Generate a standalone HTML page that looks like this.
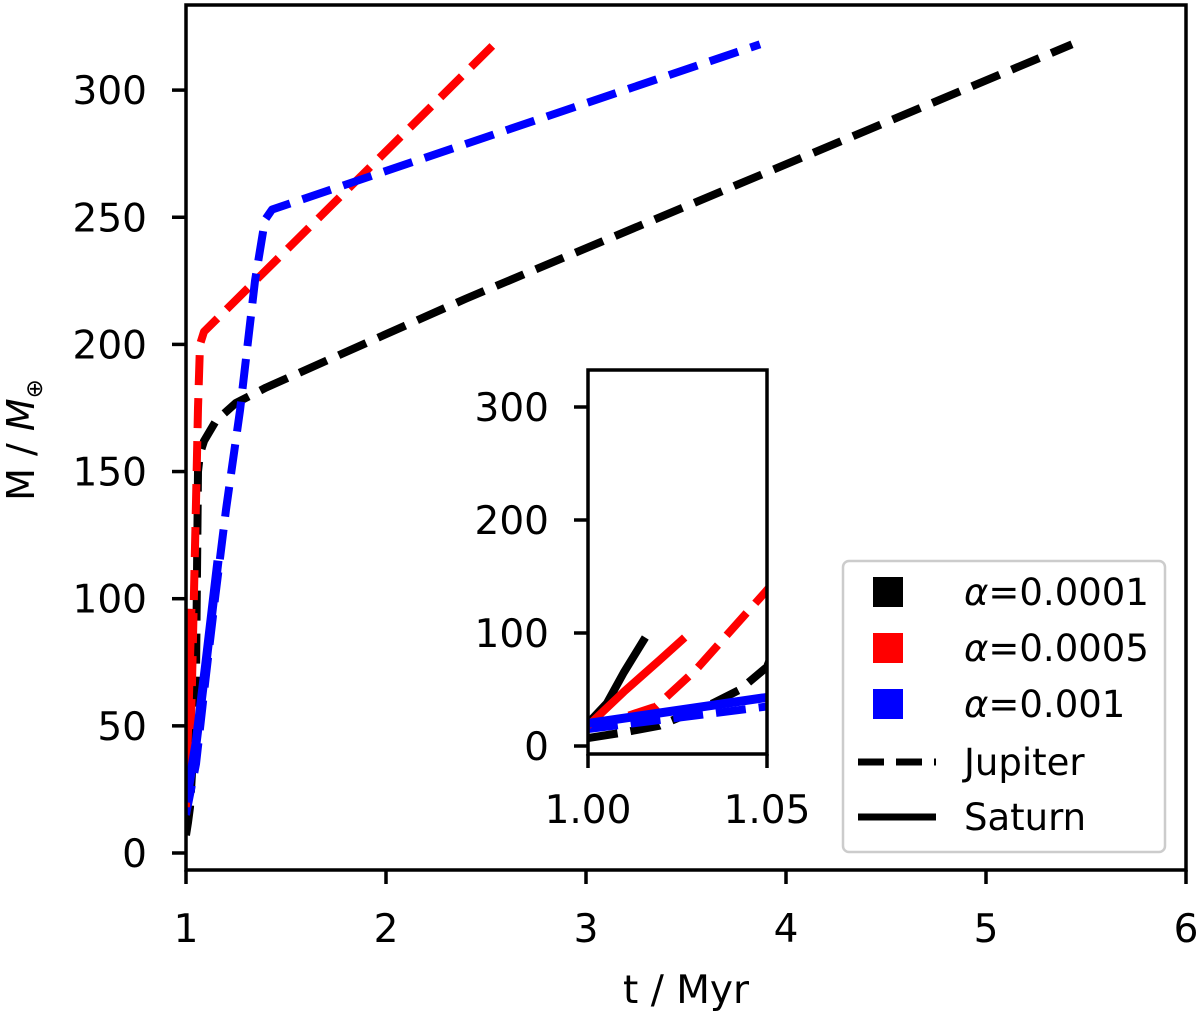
<!DOCTYPE html>
<html><head><meta charset="utf-8"><style>
body{margin:0;background:#fff}
svg{display:block;font-family:"DejaVu Sans","Liberation Sans",sans-serif}
</style></head><body>
<svg id="chart" width="1200" height="1017" viewBox="0 0 1200 1017" xmlns="http://www.w3.org/2000/svg">
<defs>
<clipPath id="mainClip"><rect x="186" y="5" width="1000" height="865"/></clipPath>
<clipPath id="insetClip"><rect x="588" y="370" width="179" height="384"/></clipPath>
</defs>
<g id="main"></g>
<g id="inset"></g>
<g id="legend"></g>
</svg>
<script>
const xTicks=[1,2,3,4,5,6];
const yTicks=[0,50,100,150,200,250,300];
const insetXTicks=[1.00,1.05];
const insetXTickLabels=["1.00","1.05"];
const insetYTicks=[0,100,200,300];
// series: times (Myr) and masses (M_earth)
const jupA1_t=[1.0,1.01,1.02,1.035,1.0425,1.05,1.055,1.06,1.07,1.09,1.15,1.25,1.4,2.4,5.43];
const jupA1_m=[7,12,18,38,50,70,110,150,157,162,170,177,183,218,318];
const jupA5_t=[1.0,1.019,1.03,1.05,1.06,1.07,1.09,2.54];
const jupA5_m=[15,35,67,138,175,200,205,318];
const jupA10_t=[1.0,1.05,1.1,1.145,1.2,1.27,1.345,1.395,1.43,3.87];
const jupA10_m=[15,35,70,100,135,174,225,249,253,318];
const satA1_t=[1.0,1.0053,1.01,1.016];
const satA1_m=[20,38,65,96];
const satA5_t=[1.0,1.01,1.02,1.027];
const satA5_m=[18,48,76,96];
const satA10_t=[1.0,1.05,1.1,1.16];
const satA10_m=[20,43,75,115];
const legendLabels=["α=0.0001","α=0.0005","α=0.001"];
const legendColors=["#000","#f00","#00f"];

const NS="http://www.w3.org/2000/svg";
function mk(tag,attrs,parent){const e=document.createElementNS(NS,tag);for(const k in attrs)e.setAttribute(k,attrs[k]);parent.appendChild(e);return e;}
const mx=t=>186+(t-1)*200, my=m=>853-m*2.543;
const ix=t=>588+(t-1)/0.05*179, iy=m=>746-m*1.13;
const series=[
 {t:jupA1_t,m:jupA1_m,c:"#000",d:true,n:"jupiter-alpha-0001-line"},
 {t:jupA5_t,m:jupA5_m,c:"#f00",d:true,n:"jupiter-alpha-0005-line"},
 {t:jupA10_t,m:jupA10_m,c:"#00f",d:true,n:"jupiter-alpha-001-line"},
 {t:satA1_t,m:satA1_m,c:"#000",d:false,n:"saturn-alpha-0001-line"},
 {t:satA5_t,m:satA5_m,c:"#f00",d:false,n:"saturn-alpha-0005-line"},
 {t:satA10_t,m:satA10_m,c:"#00f",d:false,n:"saturn-alpha-001-line",w:9}
];
function drawSeries(g,fx,fy,clip){
 const cg=mk("g",{"clip-path":clip},g);
 series.forEach(s=>{
  const pts=s.t.map((t,i)=>fx(t).toFixed(1)+","+fy(s.m[i]).toFixed(1)).join(" ");
  const p=mk("polyline",{points:pts,fill:"none",stroke:s.c,"stroke-width":s.w||8,"stroke-dasharray":s.d?"30,13":"none","stroke-linejoin":"round"},cg);
  
  
 });
}
// main
const main=document.getElementById("main");
drawSeries(main,mx,my,"url(#mainClip)");
mk("rect",{x:186,y:5,width:1000,height:865,fill:"none",stroke:"#000","stroke-width":3.5},main);
xTicks.forEach(v=>{
 mk("line",{x1:mx(v),x2:mx(v),y1:870,y2:884,stroke:"#000","stroke-width":3.5},main);
 const t=mk("text",{x:mx(v),y:942,"text-anchor":"middle","font-size":39},main);t.textContent=v;
 
 
});
yTicks.forEach(v=>{
 mk("line",{x1:172,x2:186,y1:my(v),y2:my(v),stroke:"#000","stroke-width":3.5},main);
 const t=mk("text",{x:147,y:my(v)+14,"text-anchor":"end","font-size":39},main);t.textContent=v;
 
 
});
let xl=mk("text",{x:686,y:1003,"text-anchor":"middle","font-size":39},main);xl.textContent="t / Myr";


let yl=mk("text",{transform:"translate(34,440) rotate(-90)","text-anchor":"middle","font-size":38},main);
yl.innerHTML='M / <tspan font-style="italic">M</tspan><tspan font-size="23" dy="8">⊕</tspan>';


// inset
const ins=document.getElementById("inset");
mk("rect",{x:588,y:370,width:179,height:384,fill:"#fff"},ins);
drawSeries(ins,ix,iy,"url(#insetClip)");
mk("rect",{x:588,y:370,width:179,height:384,fill:"none",stroke:"#000","stroke-width":3.5},ins);
insetXTicks.forEach((v,i)=>{
 mk("line",{x1:ix(v),x2:ix(v),y1:754,y2:768,stroke:"#000","stroke-width":3.5},ins);
 const t=mk("text",{x:ix(v),y:823,"text-anchor":"middle","font-size":39},ins);t.textContent=insetXTickLabels[i];
 
 
});
insetYTicks.forEach(v=>{
 mk("line",{x1:574,x2:588,y1:iy(v),y2:iy(v),stroke:"#000","stroke-width":3.5},ins);
 const t=mk("text",{x:549,y:iy(v)+14,"text-anchor":"end","font-size":39},ins);t.textContent=v;
 
 
});
// legend
const lg=document.getElementById("legend");
mk("rect",{x:843,y:561,width:322,height:291,rx:6,fill:"#fff",stroke:"#ccc","stroke-width":2.5},lg);
legendLabels.forEach((l,i)=>{
 const y=592+i*56;
 mk("rect",{x:873,y:y-15,width:30,height:30,fill:legendColors[i]},lg);
 const t=mk("text",{x:964,y:y+13,"font-size":37},lg);t.innerHTML='<tspan font-style="italic">α</tspan>'+l.slice(1);
 
 
});
mk("line",{x1:858,x2:936,y1:762,y2:762,stroke:"#000","stroke-width":7,"stroke-dasharray":"26,12"},lg);
let j=mk("text",{x:964,y:775,"font-size":37},lg);j.textContent="Jupiter";


mk("line",{x1:858,x2:936,y1:817,y2:817,stroke:"#000","stroke-width":7},lg);
let s=mk("text",{x:964,y:830,"font-size":37},lg);s.textContent="Saturn";


</script>
</body></html>
